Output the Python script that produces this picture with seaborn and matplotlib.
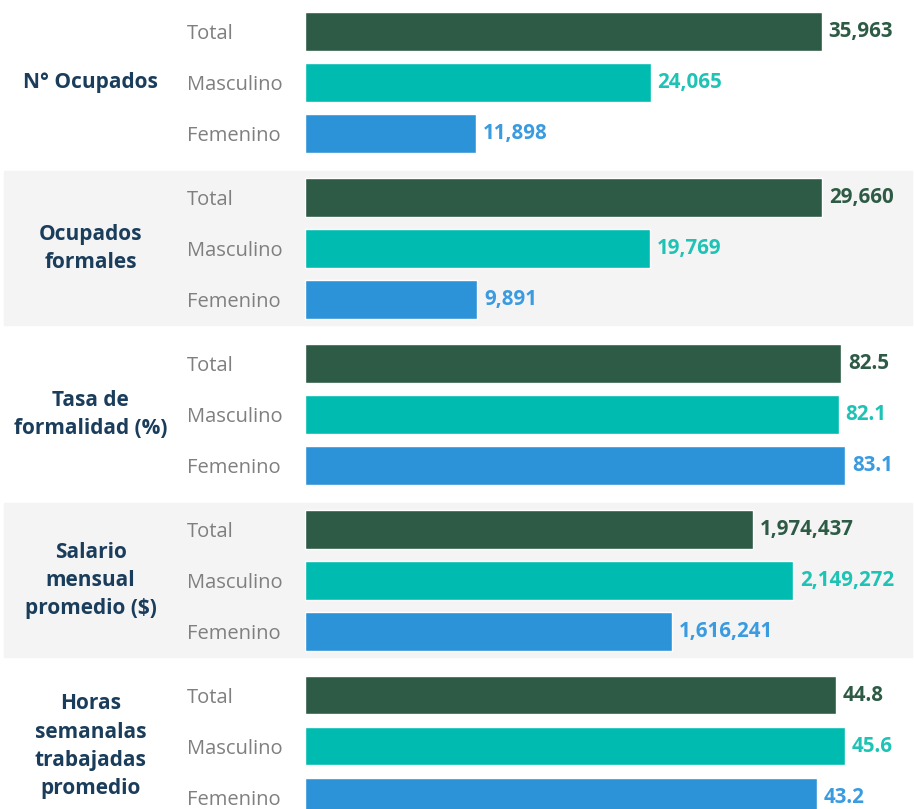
import matplotlib.pyplot as plt
import pandas as pd
import seaborn as sns
from matplotlib.patches import Rectangle

# datos del gráfico
grupos = ['N° Ocupados', 'Ocupados\nformales', 'Tasa de\nformalidad (%)',
          'Salario\nmensual\npromedio ($)', 'Horas\nsemanalas\ntrabajadas\npromedio']
sexo = ['Total', 'Masculino', 'Femenino']
ocupados = [35963, 24065, 11898]
formales = [29660, 19769, 9891]
tasa = [82.5, 82.1, 83.1]
salario = [1974437, 2149272, 1616241]
horas = [44.8, 45.6, 43.2]
valores = [ocupados, formales, tasa, salario, horas]
formatos = ['{:,.0f}', '{:,.0f}', '{:.1f}', '{:,.0f}', '{:.1f}']

colores = ['#2e5b46', '#00bcb0', '#2d93d8']
colores_txt = ['#2e5b46', '#1ec3b5', '#3a9be0']

sns.set_theme(style='white')
plt.rcParams['font.family'] = ['Open Sans', 'DejaVu Sans']

W, H = 914, 809
fig = plt.figure(figsize=(W / 100, H / 100), dpi=100)

# layout en pixeles
x0, x1 = 305, 912
centro0, paso = 82.5, 165.9
largo_max = [516.5, 517, 540, 488, 540]

for i, vals in enumerate(valores):
    c = centro0 + paso * i
    if i % 2 == 1:
        fig.patches.append(Rectangle((4 / W, 1 - (c + 77) / H), 908 / W, 154 / H,
                                     transform=fig.transFigure, color='#f4f4f4', zorder=-1))
    ax = fig.add_axes([x0 / W, 1 - (c + 76.5) / H, (x1 - x0) / W, 153 / H])
    ax.patch.set_alpha(0)
    df = pd.DataFrame({'sexo': sexo, 'valor': vals})
    sns.barplot(data=df, x='valor', y='sexo', hue='sexo', palette=colores,
                width=0.76, orient='h', legend=False, ax=ax, saturation=1)
    ax.set_ylim(2.5, -0.5)
    ax.set_xlim(0, max(vals) * (x1 - x0) / largo_max[i])
    for j, v in enumerate(vals):
        ax.annotate(formatos[i].format(v), (v, j), xytext=(5, 0), textcoords='offset points',
                    va='center', ha='left', fontsize=14.8, fontweight='bold', color=colores_txt[j])
    ax.set_xticks([])
    ax.set_xlabel('')
    ax.set_ylabel('')
    ax.tick_params(axis='y', length=0, pad=85, labelsize=14.5, labelcolor='#7f7f7f')
    for t in ax.get_yticklabels():
        t.set_ha('left')
    sns.despine(ax=ax, left=True, bottom=True)
    fig.text(90.5 / W, 1 - c / H, grupos[i], ha='center', va='center', multialignment='center',
             fontsize=15, fontweight='bold', color='#1b3d5c', linespacing=1.45)

fig.savefig('out.png', dpi=100)
